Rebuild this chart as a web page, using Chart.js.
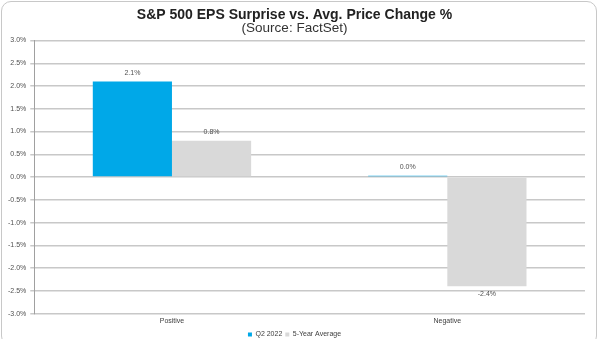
<!DOCTYPE html>
<html>
<head>
<meta charset="utf-8">
<script src="https://cdn.jsdelivr.net/npm/chart.js@4"></script>
<style>
  html, body { margin: 0; padding: 0; background: #fff; }
  .frame {
    position: absolute; left: 1px; top: 1px; width: 596px; height: 345px;
    border: 1px solid #c8c8c8; border-radius: 10px; box-sizing: border-box;
  }
  .wrap { position: absolute; left: 0; top: 0; width: 600px; height: 339px; }
</style>
</head>
<body>
<div class="frame"></div>
<div class="wrap"><canvas id="epsChart" width="600" height="339"></canvas></div>
<script>
const categories = ['Positive', 'Negative'];
const q2Values = [2.1, 0.03];
const avgValues = [0.8, -2.4];
const yTicks = { min: -3, max: 3, step: 0.5 };

// draws the value text above (or below) each bar
const barLabels = {
  id: 'barLabels',
  afterDatasetsDraw(chart) {
    const ctx = chart.ctx;
    ctx.save();
    ctx.font = '7px Arial, "Liberation Sans", sans-serif';
    ctx.fillStyle = '#505050';
    ctx.textAlign = 'center';
    chart.data.datasets.forEach((ds, i) => {
      chart.getDatasetMeta(i).data.forEach((bar, j) => {
        const v = ds.data[j];
        const txt = v.toFixed(1) + '%';
        if (v >= 0) {
          ctx.textBaseline = 'bottom';
          ctx.fillText(txt, bar.x, bar.y - 5);
        } else {
          ctx.textBaseline = 'top';
          ctx.fillText(txt, bar.x, bar.y + 4);
        }
      });
    });
    ctx.restore();
  }
};

document.addEventListener('DOMContentLoaded', function() {
  const ctx = document.getElementById('epsChart').getContext('2d');
  new Chart(ctx, {
    type: 'bar',
    data: {
      labels: categories,
      datasets: [
        {
          label: 'Q2 2022',
          data: q2Values,
          backgroundColor: '#00a8e8',
          barPercentage: 1,
          categoryPercentage: 0.575
        },
        {
          label: '5-Year Average',
          data: avgValues,
          backgroundColor: '#d9d9d9',
          barPercentage: 1,
          categoryPercentage: 0.575
        }
      ]
    },
    plugins: [barLabels],
    options: {
      responsive: false,
      animation: false,
      devicePixelRatio: 1,
      layout: { padding: { left: 4, right: 15, top: 0, bottom: -9 } },
      plugins: {
        title: {
          display: true,
          text: 'S&P 500 EPS Surprise vs. Avg. Price Change %',
          color: '#222',
          font: { family: 'Arial, "Liberation Sans", sans-serif', size: 14, weight: 'bold', lineHeight: 1 },
          padding: { top: 8, bottom: 0 }
        },
        subtitle: {
          display: true,
          text: '(Source: FactSet)',
          color: '#333',
          font: { family: 'Arial, "Liberation Sans", sans-serif', size: 13.5, lineHeight: 1 },
          padding: { top: 0, bottom: 5 }
        },
        legend: {
          position: 'bottom',
          labels: {
            boxWidth: 4, boxHeight: 4, padding: 3,
            color: '#404040',
            font: { family: 'Arial, "Liberation Sans", sans-serif', size: 7 }
          }
        },
        tooltip: { enabled: false }
      },
      scales: {
        x: {
          grid: { display: false, drawTicks: false, tickLength: 0 },
          border: { display: false },
          ticks: {
            color: '#404040',
            padding: 3,
            font: { family: 'Arial, "Liberation Sans", sans-serif', size: 7 }
          }
        },
        y: {
          min: yTicks.min,
          max: yTicks.max,
          grid: { color: '#c8c8c8', lineWidth: 1.5, tickLength: 4 },
          border: { color: '#a0a0a0', width: 1 },
          ticks: {
            stepSize: yTicks.step,
            autoSkip: false,
            color: '#505050',
            padding: 4,
            font: { family: 'Arial, "Liberation Sans", sans-serif', size: 7 },
            callback: v => v.toFixed(1) + '%'
          }
        }
      }
    }
  });
});
</script>
</body>
</html>
